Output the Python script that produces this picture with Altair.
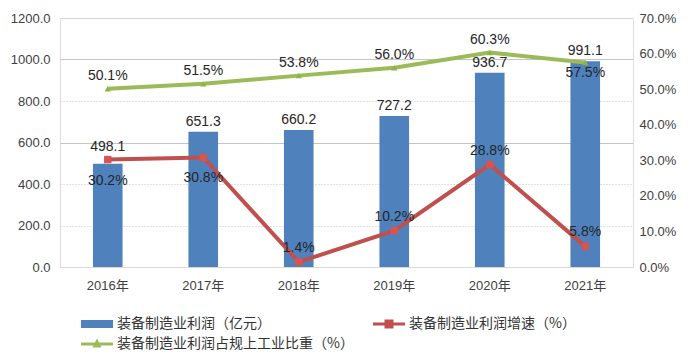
import altair as alt
import pandas as pd

years = ["2016年", "2017年", "2018年", "2019年", "2020年", "2021年"]
profit = [498.1, 651.3, 660.2, 727.2, 936.7, 991.1]
growth = [30.2, 30.8, 1.4, 10.2, 28.8, 5.8]
share = [50.1, 51.5, 53.8, 56.0, 60.3, 57.5]
series_names = ["装备制造业利润（亿元）", "装备制造业利润增速（%）", "装备制造业利润占规上工业比重（%）"]
series_colors = ["#4F81BD", "#C0504D", "#9BBB59"]
left_ticks = [0, 200, 400, 600, 800, 1000, 1200]
right_ticks = [0, 10, 20, 30, 40, 50, 60, 70]
growth_below_years = ["2016年", "2017年"]
share_below_years = ["2021年"]
bar_raised_years = ["2016年"]

FONT = "Liberation Sans, Noto Sans CJK SC, sans-serif"
CJK = "Noto Sans CJK SC, sans-serif"
TXT = "#262626"

bar_df = pd.DataFrame({"year": years, "value": profit, "series": series_names[0]})
growth_df = pd.DataFrame({"year": years, "value": growth, "series": series_names[1]})
share_df = pd.DataFrame({"year": years, "value": share, "series": series_names[2]})
legend_order = [series_names[0], series_names[2], series_names[1]]
legend_df = pd.DataFrame({"series": legend_order})

x_enc = alt.X(
    "year:N", sort=years,
    scale=alt.Scale(paddingInner=0, paddingOuter=0),
    axis=alt.Axis(title=None, labelAngle=0, ticks=False, domain=True, domainColor="#d9d9d9",
                  labelFont=FONT, labelFontSize=13, labelColor="#404040", labelPadding=12, grid=False),
)

# legend symbols (custom paths)
P1 = "M-1.78,-0.44H1.78V0.44H-1.78Z"
P2 = "M-1.78,-0.18H1.78V0.18H-1.78Z M-0.5,-0.5H0.5V0.5H-0.5Z"
P3 = "M-1.78,-0.18H1.78V0.18H-1.78Z M0,-0.6L0.5,0.4L-0.5,0.4Z"
shape_of = {series_names[0]: P1, series_names[1]: P2, series_names[2]: P3}
color_of = dict(zip(series_names, series_colors))

legend = alt.Legend(
    title=None, orient="none", legendX=28, legendY=297, columns=2, columnPadding=18,
    rowPadding=4, labelFont=CJK, labelFontSize=14, labelColor="#333333", labelLimit=400,
    symbolSize=324, labelOffset=11, symbolStrokeWidth=0, symbolOpacity=1,
)

left_axis = alt.Axis(title=None, values=left_ticks, format=".1f", grid=True,
                     gridDash={"condition": {"test": "datum.value === 1000 || datum.value === 600",
                                             "value": []}, "value": [1, 2]},
                     gridColor="#c4c4c4", domain=False, ticks=False, labelFont=FONT,
                     labelFontSize=13, labelColor="#404040", labelPadding=10)
y_left = alt.Y("value:Q", scale=alt.Scale(domain=[0, 1200]), axis=left_axis)

bars = alt.Chart(bar_df).mark_bar(width=alt.RelativeBandSize(0.31), color=series_colors[0]).encode(
    x=x_enc, y=y_left)
bar_text = alt.Chart(bar_df).transform_filter(
    alt.FieldOneOfPredicate(field="year", oneOf=[y for y in years if y not in bar_raised_years])
).mark_text(baseline="bottom", dy=-3, font=FONT, fontSize=14, color=TXT).encode(
    x=x_enc, y=y_left, text=alt.Text("value:Q", format=".1f"))
bar_text_raised = alt.Chart(bar_df).transform_filter(
    alt.FieldOneOfPredicate(field="year", oneOf=bar_raised_years)
).mark_text(baseline="bottom", dy=-10, font=FONT, fontSize=14, color=TXT).encode(
    x=x_enc, y=y_left, text=alt.Text("value:Q", format=".1f"))

left = alt.layer(bars, bar_text, bar_text_raised)

right_axis = alt.Axis(orient="right", title=None, values=right_ticks,
                      labelExpr="format(datum.value, '.1f') + '%'", grid=False, domain=False,
                      ticks=False, labelFont=FONT, labelFontSize=13, labelColor="#404040",
                      labelPadding=6)
y_r = alt.Y("value:Q", scale=alt.Scale(domain=[0, 70]), axis=right_axis)

red_line = alt.Chart(growth_df).mark_line(color=series_colors[1], strokeWidth=4).encode(x=x_enc, y=y_r)
red_pts = alt.Chart(growth_df).mark_point(shape="square", filled=True, size=55, opacity=1,
                                          color="#D9534F").encode(x=x_enc, y=y_r)
green_line = alt.Chart(share_df).mark_line(color=series_colors[2], strokeWidth=4).encode(x=x_enc, y=y_r)
green_pts = alt.Chart(share_df).mark_point(shape="triangle-up", filled=True, size=40, opacity=1,
                                           color="#8DB54A").encode(x=x_enc, y=y_r)

legend_layer = alt.Chart(legend_df).mark_point(filled=True, opacity=0).encode(
    color=alt.Color("series:N", scale=alt.Scale(domain=legend_order,
                                                range=[color_of[s] for s in legend_order]), legend=legend),
    shape=alt.Shape("series:N", scale=alt.Scale(domain=legend_order,
                                                range=[shape_of[s] for s in legend_order]), legend=legend),
)


def label_layer(df, below_years, above_dy, below_dy):
    above = alt.Chart(df).transform_filter(
        alt.FieldOneOfPredicate(field="year", oneOf=[y for y in years if y not in below_years])
    ).transform_calculate(label="format(datum.value, '.1f') + '%'").mark_text(
        baseline="bottom", dy=above_dy, font=FONT, fontSize=14, color=TXT).encode(
        x=x_enc, y=y_r, text=alt.Text("label:N"))
    below = alt.Chart(df).transform_filter(
        alt.FieldOneOfPredicate(field="year", oneOf=below_years)
    ).transform_calculate(label="format(datum.value, '.1f') + '%'").mark_text(
        baseline="top", dy=below_dy, font=FONT, fontSize=14, color=TXT).encode(
        x=x_enc, y=y_r, text=alt.Text("label:N"))
    return [above, below]


right = alt.layer(red_line, green_line, red_pts, green_pts,
                  *label_layer(growth_df, growth_below_years, -7, 14),
                  *label_layer(share_df, share_below_years, -6, 4),
                  legend_layer)

chart = alt.layer(left, right).resolve_scale(y="independent").properties(
    width=573, height=249,
    padding={"left": 52, "top": 10, "right": 51, "bottom": 89},
    autosize=alt.AutoSizeParams(type="none"),
).configure_view(stroke=None).configure(background="white")

chart.save("out.html", embed_options={"renderer": "svg", "actions": False})
